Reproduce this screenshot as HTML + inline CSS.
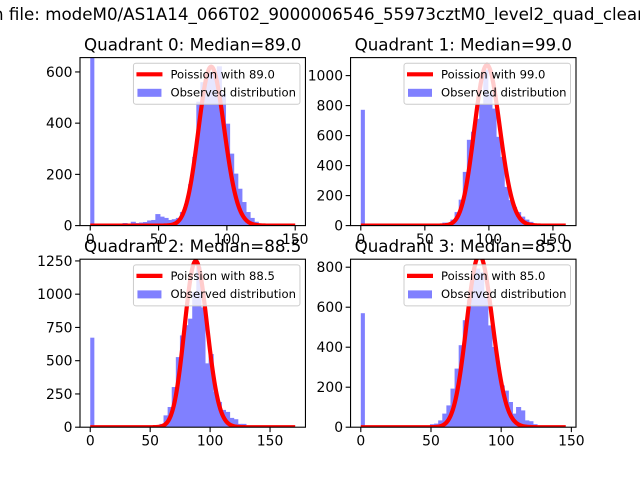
<!DOCTYPE html>
<html><head><meta charset="utf-8"><style>
html,body{margin:0;padding:0;background:#fff;}
svg{display:block;font-family:"DejaVu Sans","Liberation Sans",sans-serif;}
</style></head><body>
<svg id="chart" width="640" height="480" viewBox="0 0 640 480" xmlns="http://www.w3.org/2000/svg">
<rect width="640" height="480" fill="#fff"/>
<text x="-7" y="20" font-size="16.7" fill="#000">n file: modeM0/AS1A14_066T02_9000006546_55973cztM0_level2_quad_clean</text>
</svg>
<script>
const titles = ["Quadrant 0: Median=89.0","Quadrant 1: Median=99.0","Quadrant 2: Median=88.5","Quadrant 3: Median=85.0"];
const legendLabels = ["Poission with 89.0","Poission with 99.0","Poission with 88.5","Poission with 85.0"];
const lambdas = [89.0, 99.0, 88.5, 85.0];
const curvePeaks = [620, 1070, 1250, 860];
const dataMax = [150, 160, 171, 146];
const yMax = [656, 1120, 1263, 840];
const xTicks = [[0,50,100,150],[0,50,100,150],[0,50,100,150],[0,50,100,150]];
const yTicks = [[0,200,400,600],[0,200,400,600,800,1000],[0,250,500,750,1000,1250],[0,200,400,600,800]];
const counts0 = [700,0,0,0,0,2,5,8,10,8,15,10,12,14,20,22,45,35,30,22,25,30,53,84,162,268,484,560,590,600,600,622,515,398,281,203,144,92,53,30,15,8,5,3,1,1,0,0,0,0];
const counts1 = [772,0,0,0,0,0,0,0,0,0,0,0,0,0,0,0,2,3,5,8,20,20,40,90,173,358,572,626,712,813,1040,880,780,592,458,258,170,125,90,60,40,25,12,8,5,2,1,1,0,0];
const counts2 = [673,0,0,0,0,0,0,0,0,0,0,0,0,8,3,8,12,25,89,152,302,527,690,767,816,1017,1205,900,480,550,265,190,130,115,70,60,25,25,10,5,2,1,0,0,0,0,0,0,0,0];
const counts3 = [570,0,0,0,0,0,0,0,0,0,0,0,0,0,0,0,5,15,18,34,68,109,193,293,410,535,635,760,793,774,651,509,401,301,209,183,126,68,101,84,34,30,15,5,0,0,0,0,0,0];
const allCounts = [counts0, counts1, counts2, counts3];

const NS = "http://www.w3.org/2000/svg";
const svg = document.getElementById('chart');
function mk(tag, attrs, parent){ const e=document.createElementNS(NS,tag); for(const k in attrs) e.setAttribute(k,attrs[k]); (parent||svg).appendChild(e); return e; }
function lgamma(z){
  let s=0; while(z<8){ s-=Math.log(z); z+=1; }
  return s+(z-0.5)*Math.log(z)-z+0.5*Math.log(2*Math.PI)+1/(12*z)-1/(360*z*z*z);
}
const W = 225.45, H = 168;
const lefts = [80, 350.55, 80, 350.55];
const tops = [57.6, 57.6, 259.2, 259.2];

for(let q=0;q<4;q++){
  const L=lefts[q], T=tops[q], B=T+H, R=L+W;
  const counts = allCounts[q];
  const nb = counts.length;
  const dmax = dataMax[q];
  const margin = dmax*0.05;
  const xmin=-margin, xmax=dmax+margin;
  const X = v => L + (v - xmin)/(xmax-xmin)*W;
  const Y = v => B - v/yMax[q]*H;
  const g = mk('g',{});
  
  
  const cid='clip'+q;
  const cp = mk('clipPath',{id:cid},g); mk('rect',{x:L,y:T,width:W,height:H},cp);
  const plot = mk('g',{'clip-path':'url(#'+cid+')'},g);
  const bars = mk('g',{fill:'#8080ff'},plot);
  const bw = dmax/nb;
  for(let i=0;i<nb;i++){
    if(counts[i]<=0) continue;
    const x0=X(i*bw), x1=X((i+1)*bw);
    const padL = (i>0 && counts[i-1]>0) ? 0.5 : 0;
    const padR = (i+1<nb && counts[i+1]>0) ? 0.5 : 0;
    const r = mk('rect',{x:x0-padL,y:Y(counts[i]),width:x1-x0+padL+padR,height:B-Y(counts[i])},bars);
    
    
  }
  const lam=lambdas[q];
  const logp = k => k*Math.log(lam)-lam-lgamma(k+1);
  const pk = logp(Math.floor(lam));
  let d='';
  for(let k=0;k<=dmax;k+=0.5){
    const v = curvePeaks[q]*Math.exp(logp(k)-pk);
    d += (k===0?'M':'L')+X(k).toFixed(2)+','+Y(v).toFixed(2);
  }
  const pl = mk('path',{d:d,fill:'none',stroke:'#ff0000','stroke-width':4.2,'stroke-linejoin':'round'},plot);
  
  
  const fr = mk('rect',{x:L,y:T,width:W,height:H,fill:'none',stroke:'#000','stroke-width':1.1},g);
  
  
  xTicks[q].forEach(t=>{
    mk('line',{x1:X(t),x2:X(t),y1:B,y2:B+4.9,stroke:'#000','stroke-width':1.1},g);
    const tx = mk('text',{x:X(t),y:B+18.5,'font-size':13.9,'text-anchor':'middle'},g);
    tx.textContent=t;
    
    
  });
  yTicks[q].forEach(t=>{
    mk('line',{x1:L-4.9,x2:L,y1:Y(t),y2:Y(t),stroke:'#000','stroke-width':1.1},g);
    const ty = mk('text',{x:L-7.5,y:Y(t)+5,'font-size':13.9,'text-anchor':'end'},g);
    ty.textContent=t;
    
    
  });
  const ti = mk('text',{x:L+W/2,y:T-7,'font-size':16.7,'text-anchor':'middle'},g);
  ti.textContent = titles[q];
  
  
  const lg = mk('g',{},g);
  
  
  const lx=R-172, ly=T+5.7;
  mk('rect',{x:lx,y:ly,width:166.5,height:41,rx:2.5,fill:'#fff','fill-opacity':0.8,stroke:'#cccccc','stroke-width':1},lg);
  mk('line',{x1:lx+3,x2:lx+29,y1:ly+11,y2:ly+11,stroke:'#ff0000','stroke-width':4.2},lg);
  mk('rect',{x:lx+4,y:ly+25.5,width:24,height:8,fill:'#8080ff'},lg);
  const t1 = mk('text',{x:lx+37,y:ly+15,'font-size':11.6},lg); t1.textContent=legendLabels[q];
  
  
  const t2 = mk('text',{x:lx+37,y:ly+33,'font-size':11.6},lg); t2.textContent='Observed distribution';
  
  
}
</script>
</body></html>
